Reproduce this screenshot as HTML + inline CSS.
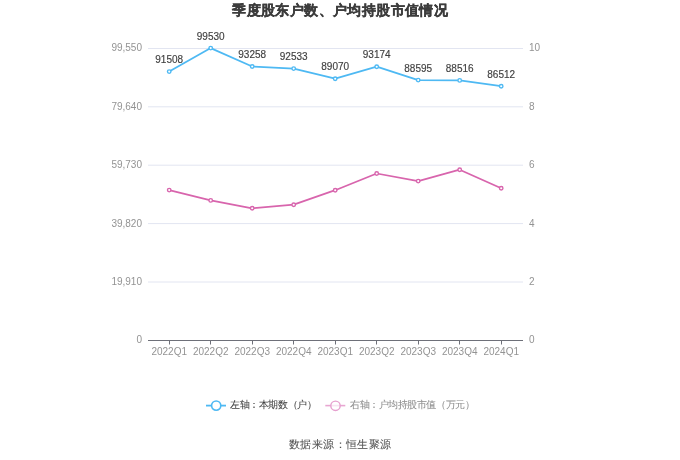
<!DOCTYPE html>
<html><head><meta charset="utf-8"><style>
html,body{margin:0;padding:0;background:#fff;}
body{width:680px;height:460px;overflow:hidden;position:relative;font-family:"Liberation Sans",sans-serif;}
svg{position:absolute;left:0;top:0;will-change:transform;}
text{font-family:"Liberation Sans",sans-serif;}
.ax{font-size:10px;fill:#939393;}
.lbl{font-size:10px;fill:#404040;stroke:#404040;stroke-width:0.15px;}
.title{font-size:14px;font-weight:bold;fill:#3c3c3c;stroke:#3c3c3c;stroke-width:0.3px;}
.leg{font-size:10px;fill:#404040;stroke:#404040;stroke-width:0.05px;}
.src{font-size:11px;fill:#505050;stroke:#505050;stroke-width:0.05px;}
</style></head><body>
<svg width="680" height="460" viewBox="0 0 680 460">
<g transform="translate(340,10)"><text x="0.2" y="0" text-anchor="middle" dominant-baseline="central" class="title" letter-spacing="0.4">季度股东户数、户均持股市值情况</text></g>
<line x1="148" y1="282.0" x2="523" y2="282.0" stroke="#e2e5f1" stroke-width="1"/>
<line x1="148" y1="223.6" x2="523" y2="223.6" stroke="#e2e5f1" stroke-width="1"/>
<line x1="148" y1="165.2" x2="523" y2="165.2" stroke="#e2e5f1" stroke-width="1"/>
<line x1="148" y1="106.8" x2="523" y2="106.8" stroke="#e2e5f1" stroke-width="1"/>
<line x1="148" y1="48.5" x2="523" y2="48.5" stroke="#e2e5f1" stroke-width="1"/>
<line x1="148" y1="340.5" x2="523" y2="340.5" stroke="#6e7079" stroke-width="1"/>
<line x1="169.5" y1="340.5" x2="169.5" y2="344.5" stroke="#6e7079" stroke-width="1"/>
<line x1="210.5" y1="340.5" x2="210.5" y2="344.5" stroke="#6e7079" stroke-width="1"/>
<line x1="252.5" y1="340.5" x2="252.5" y2="344.5" stroke="#6e7079" stroke-width="1"/>
<line x1="293.5" y1="340.5" x2="293.5" y2="344.5" stroke="#6e7079" stroke-width="1"/>
<line x1="335.5" y1="340.5" x2="335.5" y2="344.5" stroke="#6e7079" stroke-width="1"/>
<line x1="376.5" y1="340.5" x2="376.5" y2="344.5" stroke="#6e7079" stroke-width="1"/>
<line x1="418.5" y1="340.5" x2="418.5" y2="344.5" stroke="#6e7079" stroke-width="1"/>
<line x1="459.5" y1="340.5" x2="459.5" y2="344.5" stroke="#6e7079" stroke-width="1"/>
<line x1="501.5" y1="340.5" x2="501.5" y2="344.5" stroke="#6e7079" stroke-width="1"/>
<text x="142" y="339.9" text-anchor="end" dominant-baseline="central" class="ax">0</text>
<text x="142" y="281.5" text-anchor="end" dominant-baseline="central" class="ax">19,910</text>
<text x="142" y="223.1" text-anchor="end" dominant-baseline="central" class="ax">39,820</text>
<text x="142" y="164.7" text-anchor="end" dominant-baseline="central" class="ax">59,730</text>
<text x="142" y="106.3" text-anchor="end" dominant-baseline="central" class="ax">79,640</text>
<text x="142" y="47.9" text-anchor="end" dominant-baseline="central" class="ax">99,550</text>
<text x="529" y="339.9" text-anchor="start" dominant-baseline="central" class="ax">0</text>
<text x="529" y="281.5" text-anchor="start" dominant-baseline="central" class="ax">2</text>
<text x="529" y="223.1" text-anchor="start" dominant-baseline="central" class="ax">4</text>
<text x="529" y="164.7" text-anchor="start" dominant-baseline="central" class="ax">6</text>
<text x="529" y="106.3" text-anchor="start" dominant-baseline="central" class="ax">8</text>
<text x="529" y="47.9" text-anchor="start" dominant-baseline="central" class="ax">10</text>
<text x="169.2" y="351.5" text-anchor="middle" dominant-baseline="central" class="ax">2022Q1</text>
<text x="210.7" y="351.5" text-anchor="middle" dominant-baseline="central" class="ax">2022Q2</text>
<text x="252.2" y="351.5" text-anchor="middle" dominant-baseline="central" class="ax">2022Q3</text>
<text x="293.7" y="351.5" text-anchor="middle" dominant-baseline="central" class="ax">2022Q4</text>
<text x="335.2" y="351.5" text-anchor="middle" dominant-baseline="central" class="ax">2023Q1</text>
<text x="376.7" y="351.5" text-anchor="middle" dominant-baseline="central" class="ax">2023Q2</text>
<text x="418.2" y="351.5" text-anchor="middle" dominant-baseline="central" class="ax">2023Q3</text>
<text x="459.7" y="351.5" text-anchor="middle" dominant-baseline="central" class="ax">2023Q4</text>
<text x="501.2" y="351.5" text-anchor="middle" dominant-baseline="central" class="ax">2024Q1</text>
<polyline points="169.2,190.1 210.7,200.4 252.2,208.3 293.7,204.7 335.2,190.2 376.7,173.5 418.2,181.1 459.7,169.7 501.2,188.3" fill="none" stroke="#d865ad" stroke-width="1.75" stroke-linejoin="bevel"/><circle cx="169.2" cy="190.1" r="1.75" fill="#fff" stroke="#d865ad" stroke-width="1.4"/><circle cx="210.7" cy="200.4" r="1.75" fill="#fff" stroke="#d865ad" stroke-width="1.4"/><circle cx="252.2" cy="208.3" r="1.75" fill="#fff" stroke="#d865ad" stroke-width="1.4"/><circle cx="293.7" cy="204.7" r="1.75" fill="#fff" stroke="#d865ad" stroke-width="1.4"/><circle cx="335.2" cy="190.2" r="1.75" fill="#fff" stroke="#d865ad" stroke-width="1.4"/><circle cx="376.7" cy="173.5" r="1.75" fill="#fff" stroke="#d865ad" stroke-width="1.4"/><circle cx="418.2" cy="181.1" r="1.75" fill="#fff" stroke="#d865ad" stroke-width="1.4"/><circle cx="459.7" cy="169.7" r="1.75" fill="#fff" stroke="#d865ad" stroke-width="1.4"/><circle cx="501.2" cy="188.3" r="1.75" fill="#fff" stroke="#d865ad" stroke-width="1.4"/>
<polyline points="169.2,71.6 210.7,48.1 252.2,66.5 293.7,68.6 335.2,78.7 376.7,66.7 418.2,80.1 459.7,80.4 501.2,86.2" fill="none" stroke="#4eb9f3" stroke-width="1.75" stroke-linejoin="bevel"/><circle cx="169.2" cy="71.6" r="1.75" fill="#fff" stroke="#4eb9f3" stroke-width="1.4"/><circle cx="210.7" cy="48.1" r="1.75" fill="#fff" stroke="#4eb9f3" stroke-width="1.4"/><circle cx="252.2" cy="66.5" r="1.75" fill="#fff" stroke="#4eb9f3" stroke-width="1.4"/><circle cx="293.7" cy="68.6" r="1.75" fill="#fff" stroke="#4eb9f3" stroke-width="1.4"/><circle cx="335.2" cy="78.7" r="1.75" fill="#fff" stroke="#4eb9f3" stroke-width="1.4"/><circle cx="376.7" cy="66.7" r="1.75" fill="#fff" stroke="#4eb9f3" stroke-width="1.4"/><circle cx="418.2" cy="80.1" r="1.75" fill="#fff" stroke="#4eb9f3" stroke-width="1.4"/><circle cx="459.7" cy="80.4" r="1.75" fill="#fff" stroke="#4eb9f3" stroke-width="1.4"/><circle cx="501.2" cy="86.2" r="1.75" fill="#fff" stroke="#4eb9f3" stroke-width="1.4"/>
<text x="169.2" y="59.8" text-anchor="middle" dominant-baseline="central" class="lbl">91508</text>
<text x="210.7" y="36.3" text-anchor="middle" dominant-baseline="central" class="lbl">99530</text>
<text x="252.2" y="54.7" text-anchor="middle" dominant-baseline="central" class="lbl">93258</text>
<text x="293.7" y="56.8" text-anchor="middle" dominant-baseline="central" class="lbl">92533</text>
<text x="335.2" y="66.9" text-anchor="middle" dominant-baseline="central" class="lbl">89070</text>
<text x="376.7" y="54.9" text-anchor="middle" dominant-baseline="central" class="lbl">93174</text>
<text x="418.2" y="68.3" text-anchor="middle" dominant-baseline="central" class="lbl">88595</text>
<text x="459.7" y="68.6" text-anchor="middle" dominant-baseline="central" class="lbl">88516</text>
<text x="501.2" y="74.4" text-anchor="middle" dominant-baseline="central" class="lbl">86512</text>
<g>
<line x1="206" y1="405.6" x2="226" y2="405.6" stroke="#4eb9f3" stroke-width="1.8"/>
<circle cx="216.2" cy="405.6" r="4.6" fill="#fff" stroke="#4eb9f3" stroke-width="1.6"/>
<g transform="translate(230,404.3)"><text x="0" y="0" dominant-baseline="central" class="leg" letter-spacing="-0.4">左轴：本期数（户）</text></g>
<line x1="325.3" y1="405.6" x2="345.3" y2="405.6" stroke="#e8a6d2" stroke-width="1.6"/>
<circle cx="335.5" cy="405.8" r="4.7" fill="#fff" fill-opacity="0.7" stroke="#e6a0cf" stroke-width="1.4"/>
<g transform="translate(350,404.3)"><text x="0" y="0" dominant-baseline="central" class="leg" letter-spacing="-0.45" style="fill:#8c8c8c;stroke:#8c8c8c">右轴：户均持股市值（万元）</text></g>
</g>
<g transform="translate(340,444.3)"><text x="0.2" y="0" text-anchor="middle" dominant-baseline="central" class="src" letter-spacing="0.35">数据来源：恒生聚源</text></g>
</svg>
</body></html>
